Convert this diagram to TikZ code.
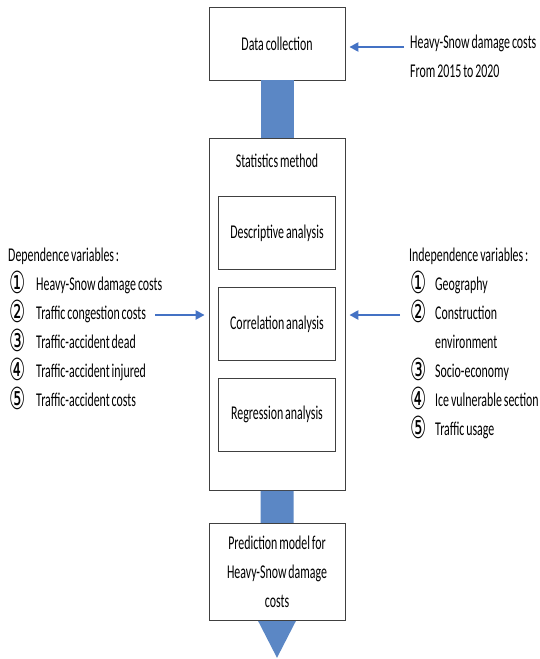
\documentclass[tikz,border=0pt]{standalone}
\usepackage{fontspec}
\setmainfont[FakeStretch=0.61,WordSpace=0.7]{Carlito}
\newfontfamily\symfont{DejaVu Sans}
\usetikzlibrary{arrows.meta,positioning,calc}
\definecolor{barblue}{HTML}{5B87C5}
\definecolor{arrblue}{HTML}{4472C4}
\newcommand{\cnum}[2][28pt]{\makebox[#1][l]{\hspace{1pt}\raisebox{-2.5pt}{\symfont\fontsize{19}{19}\selectfont\scalebox{0.95}[1.6]{#2}}}}
\begin{document}
\begin{tikzpicture}[
  x=1pt,y=1pt,
  every node/.style={font=\fontsize{19.5}{24}\selectfont},
  box/.style={draw=black!75,fill=white,minimum width=136pt,align=center,line width=0.8pt},
  inbox/.style={draw=black!75,fill=white,minimum width=117pt,minimum height=73pt,line width=0.8pt},
  list/.style={anchor=north west,inner sep=0pt,align=left,font=\fontsize{19.5}{29}\selectfont},
  arr/.style={-{Triangle[length=9pt,width=9pt]},line width=2.6pt,arrblue},
  bar/.style={fill=barblue,draw=none}
]
\useasboundingbox (0,0) rectangle (539,-659);
% main column
\node[box,minimum height=73pt] (dataBox) at (277,-43.5) {Data collection};
\node[box,minimum height=352pt,anchor=north] (statBox) at (277,-138) {};
\node[inner sep=0pt] (statTitle) at ($(statBox.north)+(0,-23)$) {Statistics method};
\node[inbox] (descBox) at (277,-233) {Descriptive analysis};
\node[inbox,below=17pt of descBox] (corrBox) {Correlation analysis};
\node[inbox,below=17pt of corrBox] (regrBox) {Regression analysis};
% block arrows between the boxes
\fill[bar] ($(dataBox.south)+(-16.5,0)$) rectangle ($(statBox.north)+(16.5,0)$);
\fill[bar] ($(statBox.south)+(-16.5,0)$) -- ($(statBox.south)+(-16.5,-130)$)
  -- ++(-2.5,0) -- ($(statBox.south)+(0,-167)$) -- ($(statBox.south)+(19,-130)$)
  -- ++(-2.5,0) -- ($(statBox.south)+(16.5,0)$) -- cycle;
\node[box,minimum height=97pt,anchor=north,
  font=\fontsize{19.5}{29}\selectfont] (predBox) at (277,-523)
  {Prediction model for\\Heavy-Snow damage\\costs};
% input texts
\node[list] (srcText) at (410,-35) {Heavy-Snow damage costs\\From 2015 to 2020};
\node[list] (depList) at (8,-248) {Dependence variables :\\
  \cnum{①}Heavy-Snow damage costs\\
  \cnum{②}Traffic congestion costs\\
  \cnum{③}Traffic-accident dead\\
  \cnum{④}Traffic-accident injured\\
  \cnum{⑤}Traffic-accident costs};
\node[list] (indepList) at (409,-248) {Independence variables :\\
  \cnum[26pt]{①}Geography\\
  \cnum[26pt]{②}Construction\\
  \hspace{26pt}environment\\
  \cnum[26pt]{③}Socio-economy\\
  \cnum[26pt]{④}Ice vulnerable section\\
  \cnum[26pt]{⑤}Traffic usage};
% thin arrows
\coordinate (srcTail) at (404,-47);
\coordinate (depTail) at (155,-315);
\coordinate (indepTail) at (400,-315);
\draw[arr,shorten >=4pt] (srcTail) -- (srcTail -| dataBox.east);
\draw[arr,shorten >=4pt] (depTail) -- (depTail -| statBox.west);
\draw[arr,shorten >=4pt] (indepTail) -- (indepTail -| statBox.east);
\end{tikzpicture}
\end{document}
